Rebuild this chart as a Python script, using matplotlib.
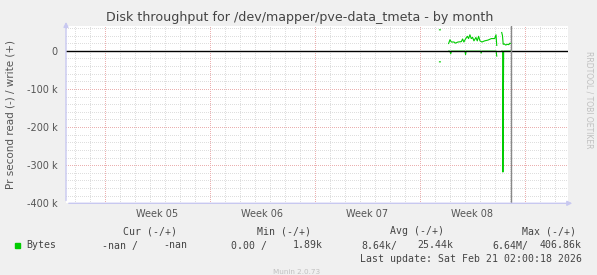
import numpy as np
import matplotlib
matplotlib.use("Agg")
import matplotlib.pyplot as plt

# time in days relative to Sun Feb 15 00:00, values in k
write_days = [1.30, 1.36, np.nan,
              1.91, 2.00, 2.09, 2.27, 2.36, 2.53, 2.76, 2.84, 2.93, 3.02, 3.16,
              3.24, 3.33, 3.42, 3.51, 3.60, 3.73, 3.82, 3.91, 4.00, 4.13, 4.31,
              4.53, 4.76, 4.98, 5.07, 5.12, np.nan,
              5.45, 5.50, 5.55, 5.62, 5.72, 5.82, 5.92, 6.00, 6.06]
write_vals = [55, 55, np.nan,
              19, 29, 23, 23, 20, 23, 24, 31, 23, 30, 38,
              32, 42, 32, 35, 26, 35, 26, 38, 26, 23, 26,
              28, 32, 32, 42, 14, np.nan,
              48, 40, 17, 18, 15, 17, 16, 20, 19]

read_days = [1.30, 1.36, np.nan,
             1.91, 2.00, 2.05, 2.10, 2.50, 3.00, 3.04, 3.08, 3.60, 4.04, 4.08,
             4.12, 4.70, 5.08, 5.12, np.nan,
             5.45, 5.51, 5.53, 5.58, 5.80, 6.06]
read_vals = [-29, -29, np.nan,
             -1, -1, -8, -1, -1, -1, -10, -1, -1, -1, -6,
             -1, -1, -1, -14, np.nan,
             -1, -1, -318, -1, -1, -1]

week_labels = ["Week 05", "Week 06", "Week 07", "Week 08"]
week_centers = [-17.5, -10.5, -3.5, 3.5]
week_bounds = [-21, -14, -7, 0, 7]
y_major = [0, -100, -200, -300, -400]
y_labels = ["0", "-100 k", "-200 k", "-300 k", "-400 k"]
now_day = 6.08

plt.rcParams["lines.scale_dashes"] = False
bg = "#f0f0f0"
txt = "#555555"

W, H = 597, 275
fig = plt.figure(figsize=(W / 100, H / 100), dpi=100, facecolor=bg)
ax = fig.add_axes([66 / W, (H - 203.3) / H, (568.3 - 66) / W, (203.3 - 26) / H])
ax.set_facecolor("white")
xmin, xmax = -23.6, 9.89
ymin, ymax = -400, 65
ax.set_xlim(xmin, xmax)
ax.set_ylim(ymin, ymax)

dots = (0, (0.72, 1.44))
grid_kw = dict(lw=0.72, ls=dots, zorder=1, antialiased=False)
# minor grid
for d in np.arange(-23, 10, 1):
    if d not in week_bounds:
        ax.axvline(d, color="#dedede", **grid_kw)
for v in np.arange(-380, 65, 20):
    if v % 100 != 0:
        ax.axhline(v, color="#dedede", **grid_kw)
# major grid
for d in week_bounds:
    ax.axvline(d, color="#ebb0b0", **grid_kw)
for v in y_major[1:]:
    ax.axhline(v, color="#ebb0b0", **grid_kw)

ax.plot(write_days, write_vals, color="#00cc00", lw=0.8, zorder=3)
ax.plot(read_days, read_vals, color="#00cc00", lw=0.8, zorder=3)
ax.axhline(0, color="black", lw=1.0, zorder=4)
ax.axvline(now_day, color="#888888", lw=1.0, zorder=5)

for s in ax.spines.values():
    s.set_visible(False)
ax.set_xticks(week_centers)
ax.set_xticklabels(week_labels)
ax.set_yticks(y_major)
ax.set_yticklabels(y_labels)
ax.tick_params(length=0, labelsize=7, colors=txt, pad=6)
ax.tick_params(axis="x", pad=4)

# axes with arrows
ax.annotate("", xy=(xmax + 0.45, ymin), xytext=(xmin, ymin),
            arrowprops=dict(arrowstyle="-|>", color="#c8c8f0", lw=1, mutation_scale=7),
            annotation_clip=False, zorder=6)
ax.annotate("", xy=(xmin, ymax + 18), xytext=(xmin, ymin),
            arrowprops=dict(arrowstyle="-|>", color="#c8c8f0", lw=1, mutation_scale=7),
            annotation_clip=False, zorder=6)

ax.set_ylabel("Pr second read (-) / write (+)", fontsize=7.5, color=txt, labelpad=8)
fig.text(300 / W, 1 - 17 / H, "Disk throughput for /dev/mapper/pve-data_tmeta - by month",
         ha="center", va="center", fontsize=9.1, color="#444444")
fig.text(589 / W, 1 - 100 / H, "RRDTOOL / TOBI OETIKER", rotation=270,
         ha="center", va="center", fontsize=5.5, color="#c0c0c0")


def px(x, y, s, **kw):
    kw.setdefault("fontsize", 7.1)
    kw.setdefault("color", "#444444")
    fig.text(x / W, 1 - y / H, s, family="DejaVu Sans Mono", va="center", **kw)


px(123, 231, "Cur (-/+)")
px(257, 231, "Min (-/+)")
px(390, 231, "Avg (-/+)")
px(522, 231, "Max (-/+)")
fig.patches.append(plt.Rectangle((14.5 / W, 1 - 248 / H), 5.3 / W, 5.3 / H,
                                 transform=fig.transFigure, color="#00cc00", figure=fig))
px(26, 245.5, "Bytes")
px(102, 245.5, "-nan /")
px(163, 245.5, "-nan")
px(231, 245.5, "0.00 /")
px(293, 245.5, "1.89k")
px(361, 245.5, "8.64k/")
px(417, 245.5, "25.44k")
px(492, 245.5, "6.64M/")
px(540, 245.5, "406.86k")
px(582, 259, "Last update: Sat Feb 21 02:00:18 2026", ha="right")
fig.text(297 / W, 1 - 271.5 / H, "Munin 2.0.73", ha="center", va="center",
         fontsize=5.2, color="#c0c0c0")

fig.savefig("out.png", dpi=100, facecolor=bg)
